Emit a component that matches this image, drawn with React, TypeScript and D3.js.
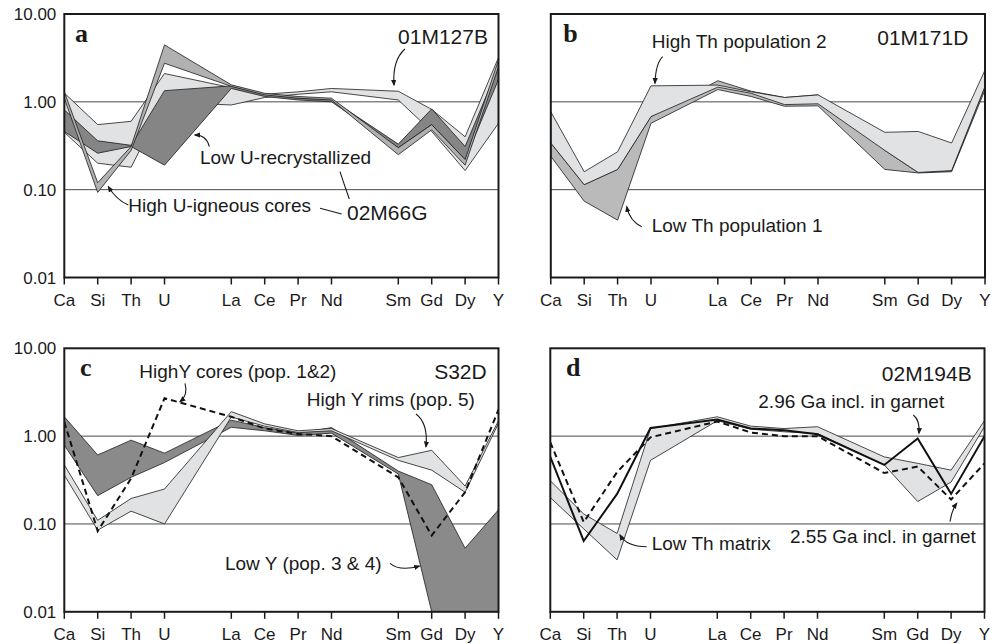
import React from 'react'
import * as d3 from 'd3'

// element order along the x axis (gaps between groups)
const ELEMENTS = ['Ca', 'Si', 'Th', 'U', 'La', 'Ce', 'Pr', 'Nd', 'Sm', 'Gd', 'Dy', 'Y']
const ELEMENT_POS = [0, 1, 2, 3, 5, 6, 7, 8, 10, 11, 12, 13]
const Y_TICKS = [10, 1, 0.1, 0.01]
const Y_TICK_LABELS = ['10.00', '1.00', '0.10', '0.01']
const GRID = [1, 0.1]

// panel a - 01M127B / 02M66G
const a127Upper = [1.26, 0.55, 0.6, 2.1, 1.45, 1.22, 1.3, 1.42, 1.32, 0.82, 0.4, 3.2]
const a127Lower = [0.45, 0.2, 0.18, 1.0, 0.92, 1.12, 1.22, 1.3, 1.05, 0.46, 0.165, 0.57]
const aRecrystUpper = [0.81, 0.36, 0.32, 1.34, 1.52, 1.22, 1.1, 1.06, 0.33, 0.83, 0.31, 2.5]
const aRecrystLower = [0.46, 0.26, 0.31, 0.19, 1.42, 1.15, 1.05, 1.0, 0.3, 0.55, 0.22, 1.8]
const aCoresUpper = [1.3, 0.12, 0.31, 4.45, 1.56, 1.25, 1.15, 1.1, 0.3, 0.55, 0.22, 3.0]
const aCoresLower = [1.1, 0.093, 0.28, 2.75, 1.5, 1.2, 1.1, 1.05, 0.25, 0.48, 0.19, 2.5]

// panel b - 01M171D
const bPop2Upper = [0.77, 0.16, 0.27, 1.52, 1.55, 1.3, 1.12, 1.2, 0.45, 0.46, 0.34, 2.3]
const bPop2Lower = [0.34, 0.114, 0.17, 0.68, 1.47, 1.25, 0.93, 0.95, 0.28, 0.157, 0.165, 1.5]
const bPop1Upper = [0.34, 0.114, 0.17, 0.68, 1.74, 1.32, 1.12, 1.2, 0.28, 0.157, 0.165, 1.5]
const bPop1Lower = [0.24, 0.074, 0.045, 0.57, 1.38, 1.15, 0.89, 0.9, 0.17, 0.155, 0.16, 1.37]

// panel c - S32D
const cLowYUpper = [1.66, 0.61, 0.9, 0.64, 1.52, 1.25, 1.08, 1.25, 0.4, 0.28, 0.053, 0.145]
const cLowYLower = [0.79, 0.21, 0.34, 0.5, 1.26, 1.15, 1.02, 1.08, 0.37, 0.01, 0.005, 0.009]
const cRimsUpper = [0.47, 0.11, 0.195, 0.25, 1.9, 1.38, 1.15, 1.22, 0.57, 0.69, 0.27, 1.5]
const cRimsLower = [0.36, 0.085, 0.14, 0.1, 1.65, 1.3, 1.1, 1.15, 0.53, 0.41, 0.23, 1.4]
const cCores = [1.45, 0.083, 0.33, 2.7, 1.66, 1.22, 1.06, 1.0, 0.34, 0.074, 0.23, 2.0]

// panel d - 02M194B
const dMatrixUpper = [0.31, 0.13, 0.078, 1.22, 1.66, 1.3, 1.22, 1.28, 0.58, 0.49, 0.41, 1.5]
const dMatrixLower = [0.2, 0.088, 0.039, 0.53, 1.5, 1.2, 1.12, 1.07, 0.47, 0.18, 0.3, 1.28]
const d296 = [0.58, 0.064, 0.22, 1.24, 1.55, 1.22, 1.17, 1.05, 0.47, 0.94, 0.22, 1.0]
const d255 = [0.85, 0.105, 0.39, 0.97, 1.47, 1.1, 1.0, 1.0, 0.38, 0.45, 0.19, 0.49]

const LIGHT = '#e1e2e3'
const MID = '#b1b1b1'
const DARK = '#858585'

const W = 434.2
const H = 263.5

const panels = [
  {
    id: 'a', left: 64.3, top: 14, yLabels: true,
    bands: [
      { upper: a127Upper, lower: a127Lower, fill: LIGHT },
      { upper: aRecrystUpper, lower: aRecrystLower, fill: DARK },
      { upper: aCoresUpper, lower: aCoresLower, fill: MID }
    ],
    lines: [],
    texts: [
      { t: '01M127B', x: 423.7, y: 30, anchor: 'end', size: 21 },
      { t: 'Low U-recrystallized', x: 135.7, y: 150, size: 19 },
      { t: 'High U-igneous cores', x: 64, y: 198, size: 19 },
      { t: '02M66G', x: 282.7, y: 206, size: 21 }
    ],
    arrows: [
      { from: [340.7, 35], ctrl: [328, 46], to: [329.7, 71], head: true },
      { from: [145, 132.7], ctrl: [142.4, 121], to: [130.7, 121], head: true },
      { from: [275.7, 157.7], ctrl: [280, 171], to: [285, 185], head: false },
      { from: [255.7, 194.3], ctrl: [266, 197], to: [277.4, 200], head: false },
      { from: [64, 191], ctrl: [52.4, 186], to: [44, 172.7], head: true }
    ]
  },
  {
    id: 'b', left: 550.8, top: 14, yLabels: false,
    bands: [
      { upper: bPop1Upper, lower: bPop1Lower, fill: '#bababa' },
      { upper: bPop2Upper, lower: bPop2Lower, fill: LIGHT }
    ],
    lines: [],
    texts: [
      { t: '01M171D', x: 417.5, y: 31, anchor: 'end', size: 21 },
      { t: 'High Th population 2', x: 100.9, y: 34, size: 19 },
      { t: 'Low Th population 1', x: 100.9, y: 217.7, size: 19 }
    ],
    arrows: [
      { from: [111.9, 42.7], ctrl: [104.9, 49.3], to: [104.2, 69.3], head: true },
      { from: [90.9, 212.7], ctrl: [79.2, 207.7], to: [75.9, 192.7], head: true }
    ]
  },
  {
    id: 'c', left: 64.3, top: 348.3, yLabels: true,
    bands: [
      { upper: cLowYUpper, lower: cLowYLower, fill: '#8a8a8a' },
      { upper: cRimsUpper, lower: cRimsLower, fill: LIGHT }
    ],
    lines: [{ values: cCores, dashed: true }],
    texts: [
      { t: 'HighY cores (pop. 1&2)', x: 75, y: 30, size: 19 },
      { t: 'S32D', x: 422.4, y: 31, anchor: 'end', size: 21 },
      { t: 'High Y rims (pop. 5)', x: 242.4, y: 57.7, size: 19 },
      { t: 'Low Y (pop. 3 & 4)', x: 160.7, y: 221.7, size: 19 }
    ],
    arrows: [
      { from: [120.7, 35], ctrl: [124, 46.7], to: [115.7, 53.4], head: true },
      { from: [351.7, 65.7], ctrl: [364, 75], to: [361.7, 98.4], head: true },
      { from: [325.7, 215], ctrl: [335.7, 223.4], to: [355, 217.7], head: true }
    ]
  },
  {
    id: 'd', left: 550.3, top: 348.3, yLabels: false,
    bands: [{ upper: dMatrixUpper, lower: dMatrixLower, fill: LIGHT }],
    lines: [
      { values: d255, dashed: true },
      { values: d296, dashed: false }
    ],
    texts: [
      { t: '02M194B', x: 421.4, y: 32.4, anchor: 'end', size: 21 },
      { t: '2.96 Ga incl. in garnet', x: 208, y: 60, size: 19 },
      { t: 'Low Th matrix', x: 101.4, y: 201.7, size: 19 },
      { t: '2.55 Ga incl. in garnet', x: 239.7, y: 194.4, size: 19 }
    ],
    arrows: [
      { from: [363, 66.7], ctrl: [369.7, 71.7], to: [368.7, 85], head: true },
      { from: [96.4, 198.4], ctrl: [76.4, 198.4], to: [69.7, 186.7], head: true },
      { from: [399.7, 173.4], ctrl: [401.4, 161.7], to: [406.4, 155], head: true }
    ]
  }
]

const SANS = 'Liberation Sans, Arial, Helvetica, sans-serif'

const Panel = ({ p }) => {
  const x = d3.scaleLinear().domain([0, 13]).range([0, W])
  const y = d3.scaleLog().domain([0.01, 10]).range([H, 0])

  const area = d3
    .area()
    .x(d => x(d.pos))
    .y0(d => y(d.lo))
    .y1(d => y(d.hi))

  const line = d3
    .line()
    .x(d => x(d.pos))
    .y(d => y(d.v))

  const clipId = 'clip-' + p.id

  return (
    <g transform={'translate(' + p.left + ',' + p.top + ')'}>
      <defs>
        <clipPath id={clipId}>
          <rect x={0} y={0} width={W} height={H} />
        </clipPath>
      </defs>

      {GRID.map(v => (
        <line key={v} x1={0} x2={W} y1={y(v)} y2={y(v)} stroke="#4a4a4a" strokeWidth={1} />
      ))}

      <g clipPath={'url(#' + clipId + ')'}>
        {p.bands.map((b, i) => {
          const rows = ELEMENT_POS.map((pos, k) => ({ pos, hi: b.upper[k], lo: b.lower[k] }))
          return (
            <path key={i} d={area(rows)} fill={b.fill} stroke="#1c1c1c" strokeWidth={0.8} strokeLinejoin="miter" />
          )
        })}
        {p.lines.map((l, i) => {
          const rows = ELEMENT_POS.map((pos, k) => ({ pos, v: l.values[k] }))
          return (
            <path
              key={i}
              d={line(rows)}
              fill="none"
              stroke="#111"
              strokeWidth={2}
              strokeDasharray={l.dashed ? '6,4' : null}
            />
          )
        })}
      </g>

      <rect x={0} y={0} width={W} height={H} fill="none" stroke="#1a1a1a" strokeWidth={2} />

      {/* x ticks */}
      {ELEMENTS.map((e, i) => (
        <g key={e} transform={'translate(' + x(ELEMENT_POS[i]) + ',' + H + ')'}>
          <line y1={0} y2={7} stroke="#1a1a1a" strokeWidth={1.5} />
          <text y={28} textAnchor="middle" fontFamily={SANS} fontSize={17} fill="#1a1a1a">
            {e}
          </text>
        </g>
      ))}

      {p.yLabels &&
        Y_TICKS.map((v, i) => (
          <text
            key={v}
            x={-8}
            y={y(v)}
            dy="0.36em"
            textAnchor="end"
            fontFamily={SANS}
            fontSize={17}
            fill="#1a1a1a"
          >
            {Y_TICK_LABELS[i]}
          </text>
        ))}

      <text
        x={p.id === 'a' ? 10.7 : p.id === 'b' ? 12.5 : 15.7}
        y={27.7}
        fontFamily="Liberation Serif, Times New Roman, serif"
        fontWeight="bold"
        fontSize={26}
        fill="#1a1a1a"
      >
        {p.id}
      </text>

      {p.texts.map((t, i) => (
        <text
          key={i}
          x={t.x}
          y={t.y}
          textAnchor={t.anchor || 'start'}
          fontFamily={SANS}
          fontSize={t.size}
          fill="#1a1a1a"
        >
          {t.t}
        </text>
      ))}

      {p.arrows.map((a, i) => (
        <path
          key={i}
          d={'M' + a.from[0] + ',' + a.from[1] + ' Q' + a.ctrl[0] + ',' + a.ctrl[1] + ' ' + a.to[0] + ',' + a.to[1]}
          fill="none"
          stroke="#1a1a1a"
          strokeWidth={1.1}
          markerEnd={a.head ? 'url(#arrowhead)' : null}
        />
      ))}
    </g>
  )
}

const App = () => {
  return (
    <svg
      width={995}
      height={644}
      style={{ position: 'absolute', left: 0, top: 0, background: '#fff' }}
    >
      <defs>
        <marker
          id="arrowhead"
          viewBox="0 0 10 10"
          refX="8"
          refY="5"
          markerWidth="6"
          markerHeight="6"
          orient="auto"
        >
          <path d="M0,1 L10,5 L0,9 z" fill="#1a1a1a" />
        </marker>
      </defs>
      {panels.map(p => (
        <Panel key={p.id} p={p} />
      ))}
    </svg>
  )
}

export default App
